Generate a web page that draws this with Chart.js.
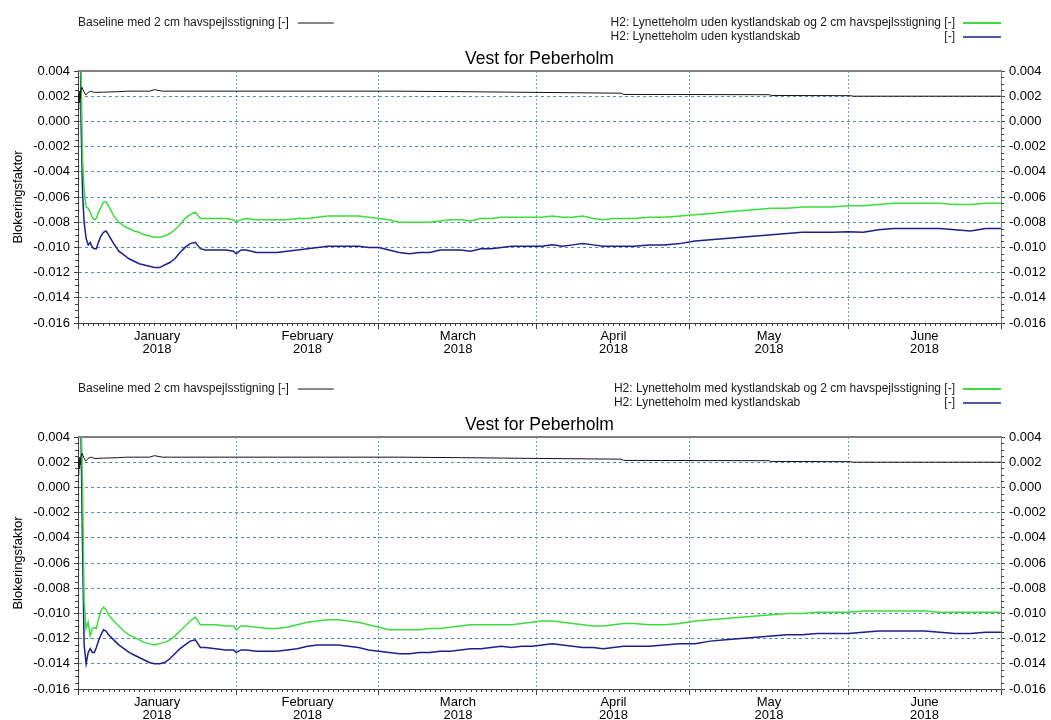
<!DOCTYPE html>
<html>
<head>
<meta charset="utf-8">
<script src="https://cdn.jsdelivr.net/npm/chart.js@4.4.1/dist/chart.umd.min.js"></script>
<style>
  html, body { margin: 0; padding: 0; background: #fff; overflow: hidden; width: 1051px; height: 720px; }
  .panel { position: absolute; left: 0; width: 1051px; height: 366px; }
  #p1 { top: 0; }
  #p2 { top: 366px; }
</style>
</head>
<body>
<div class="panel" id="p1"><canvas id="c1" width="1051" height="366"></canvas></div>
<div class="panel" id="p2"><canvas id="c2" width="1051" height="366"></canvas></div>
<script>
// Time is counted in days from 1 January 2018 00:00.
const monthStarts = [0, 31, 59, 90, 120, 151, 181];
const monthNames = ['January', 'February', 'March', 'April', 'May', 'June'];
const yearLabel = '2018';
const yTickValues = [0.004, 0.002, 0, -0.002, -0.004, -0.006, -0.008, -0.010, -0.012, -0.014, -0.016];

const titleText = 'Vest for Peberholm';
const yTitle = 'Blokeringsfaktor';
const unit = '[-]';
const baseLabel = 'Baseline med 2 cm havspejlsstigning';
const udenGreenLabel = 'H2: Lynetteholm uden kystlandskab og 2 cm havspejlsstigning';
const udenBlueLabel = 'H2: Lynetteholm uden kystlandskab';
const medGreenLabel = 'H2: Lynetteholm med kystlandskab og 2 cm havspejlsstigning';
const medBlueLabel = 'H2: Lynetteholm med kystlandskab';

// Baseline (same in both panels)
const baseDays = [0.05, 0.15, 0.25, 0.35, 0.45, 0.6, 0.8, 1.1, 1.5, 2.0,
  2.6, 3.2, 5, 8, 9.5, 12, 14, 15, 16.5, 18,
  40, 63, 75, 90, 106.5, 107, 135.5, 136, 151.5, 152, 181];
const baseVals = [0.0010, 0.0022, 0.0015, 0.0024, 0.0018, 0.0025, 0.0027, 0.0024, 0.0021, 0.0023,
  0.0024, 0.0023, 0.00232, 0.00236, 0.0024, 0.0024, 0.0024, 0.00252, 0.0024, 0.0024,
  0.0024, 0.0024, 0.00236, 0.0023, 0.00224, 0.00214, 0.00212, 0.00206, 0.00204, 0.0020, 0.0020];

// Sample days shared by the scenario series
const days = [
  0.4, 0.6, 0.9, 1.2, 1.6, 2.0, 2.4, 2.8, 3.2, 3.6, 4.0, 4.5, 5.0, 5.5, 6.0,
  7, 8, 9, 10, 11, 12, 13, 14, 15, 16, 17, 18, 19, 20, 21, 22, 23, 24, 25,
  27, 29, 30.5, 31, 32, 33,
  35, 37, 39, 41, 43, 45, 47, 49, 51, 53, 55, 57, 59, 61, 63, 65, 67, 69, 71, 73,
  75, 77, 79, 81, 83, 85, 87, 89, 91, 93, 95, 97, 99, 101, 103, 105, 107,
  109,
  112, 115, 118, 121, 124, 127, 130, 133, 136, 139, 142, 145, 148, 151, 154, 157,
  160, 163, 166, 169, 172, 175, 178, 181];

// Lynetteholm uden kystlandskab + 2 cm
const udenGreen = [
  0.010, 0.004, -0.0030, -0.0055, -0.0068, -0.0069, -0.0072, -0.0076, -0.0078, -0.0077, -0.0072, -0.0068, -0.0064, -0.0064, -0.0067,
  -0.0075, -0.0080, -0.0083, -0.0085, -0.0087, -0.0088, -0.0090, -0.0091, -0.0092, -0.0092, -0.0091, -0.0089, -0.0086, -0.0082, -0.0077, -0.0074, -0.0072, -0.0077, -0.0077,
  -0.0077, -0.0077, -0.0078, -0.0080, -0.0078, -0.0077,
  -0.0078, -0.0078, -0.0078, -0.0078, -0.0077, -0.0077, -0.0076, -0.0075, -0.0075, -0.0075, -0.0075, -0.0076, -0.0077, -0.0078, -0.0080, -0.0080, -0.0080, -0.0080, -0.0079, -0.0078,
  -0.0078, -0.0079, -0.0077, -0.0077, -0.0076, -0.0076, -0.0076, -0.0076, -0.0076, -0.0075, -0.0076, -0.0076, -0.0075, -0.0077, -0.0078, -0.0077, -0.0077,
  -0.0077,
  -0.0076, -0.0076, -0.0075, -0.0074, -0.0073, -0.0072, -0.0071, -0.0070, -0.0069, -0.0069, -0.0068, -0.0068, -0.0068, -0.0067, -0.0067, -0.0066,
  -0.0065, -0.0065, -0.0065, -0.0065, -0.0066, -0.0066, -0.0065, -0.0065];

// Lynetteholm uden kystlandskab
const udenBlue = [
  0.010, 0.000, -0.0057, -0.0080, -0.0093, -0.0098, -0.0096, -0.0100, -0.0101, -0.0101, -0.0096, -0.0091, -0.0088, -0.0087, -0.0090,
  -0.0097, -0.0103, -0.0106, -0.0109, -0.0111, -0.0113, -0.0114, -0.0115, -0.0116, -0.0116, -0.0114, -0.0112, -0.0109, -0.0104, -0.0100, -0.0097, -0.0096, -0.0101, -0.0102,
  -0.0102, -0.0102, -0.0103, -0.0105, -0.0102, -0.0102,
  -0.0104, -0.0104, -0.0104, -0.0103, -0.0102, -0.0101, -0.0100, -0.0099, -0.0099, -0.0099, -0.0099, -0.0100, -0.0100, -0.0102, -0.0104, -0.0105, -0.0104, -0.0104, -0.0102, -0.0102,
  -0.0102, -0.0103, -0.0101, -0.0101, -0.0100, -0.0099, -0.0099, -0.0099, -0.0099, -0.0098, -0.0099, -0.0098, -0.0097, -0.0098, -0.0099, -0.0099, -0.0099,
  -0.0099,
  -0.0098, -0.0098, -0.0097, -0.0095, -0.0094, -0.0093, -0.0092, -0.0091, -0.0090, -0.0089, -0.0088, -0.0088, -0.0088, -0.00875, -0.0088, -0.0086,
  -0.0085, -0.0085, -0.0085, -0.0085, -0.0086, -0.0087, -0.0085, -0.0085];

// Lynetteholm med kystlandskab + 2 cm
const medGreen = [
  0.010, 0.006, 0.000, -0.0090, -0.0112, -0.0107, -0.0118, -0.0112, -0.0111, -0.0112, -0.0105, -0.0098, -0.0095, -0.0097, -0.0101,
  -0.0106, -0.0110, -0.0114, -0.0117, -0.0119, -0.0121, -0.0123, -0.0124, -0.0125, -0.0124, -0.0123, -0.0121, -0.0118, -0.0114, -0.0110, -0.0106, -0.0103, -0.0109, -0.0109,
  -0.0109, -0.0110, -0.0110, -0.0113, -0.0110, -0.0110,
  -0.0111, -0.0112, -0.0112, -0.0111, -0.0109, -0.0107, -0.0106, -0.0105, -0.0105, -0.0106, -0.0107, -0.0109, -0.0111, -0.0113, -0.0113, -0.0113, -0.0113, -0.0112, -0.0112, -0.0111,
  -0.0110, -0.0109, -0.0109, -0.0109, -0.0109, -0.0109, -0.0108, -0.0107, -0.0106, -0.0106, -0.0107, -0.0108, -0.0109, -0.0110, -0.0110, -0.0109, -0.0108,
  -0.0108,
  -0.0109, -0.0109, -0.0108, -0.0106, -0.0105, -0.0104, -0.0103, -0.0102, -0.0101, -0.0100, -0.0100, -0.0099, -0.0099, -0.0099, -0.0098, -0.0098,
  -0.0098, -0.0098, -0.0098, -0.0099, -0.0099, -0.0099, -0.0099, -0.0099];

// Lynetteholm med kystlandskab
const medBlue = [
  0.010, 0.004, -0.0050, -0.0125, -0.0140, -0.0131, -0.0128, -0.0131, -0.0131, -0.0127, -0.0122, -0.0117, -0.0113, -0.0114, -0.0117,
  -0.0121, -0.0125, -0.0128, -0.0131, -0.0133, -0.0135, -0.0137, -0.0139, -0.0140, -0.0140, -0.0139, -0.0136, -0.0132, -0.0128, -0.0125, -0.0122, -0.0121, -0.0127, -0.0127,
  -0.0128, -0.0129, -0.0129, -0.0131, -0.0129, -0.0129,
  -0.0130, -0.0130, -0.0130, -0.0129, -0.0128, -0.0126, -0.0125, -0.0125, -0.0125, -0.0126, -0.0127, -0.0129, -0.0130, -0.0131, -0.0132, -0.0132, -0.0131, -0.0131, -0.0130, -0.0130,
  -0.0129, -0.0128, -0.0128, -0.0127, -0.0126, -0.0127, -0.0126, -0.0126, -0.0125, -0.0124, -0.0125, -0.0126, -0.0127, -0.0127, -0.0128, -0.0127, -0.0126,
  -0.0126,
  -0.0126, -0.0125, -0.0124, -0.0124, -0.0122, -0.0121, -0.0120, -0.0119, -0.0118, -0.0117, -0.0117, -0.0116, -0.0116, -0.0116, -0.0115, -0.0114,
  -0.0114, -0.0114, -0.0114, -0.0115, -0.0116, -0.0116, -0.0115, -0.0115];

const colBase = '#111111';
const colGreen = '#3cdc3c';
const colBlue = '#1e1e8c';
const axisColor = '#404040';

Chart.defaults.font.family = "'Liberation Sans', Arial, sans-serif";
Chart.defaults.color = '#000';

const monthMids = monthNames.map((_, i) => (monthStarts[i] + monthStarts[i + 1]) / 2);
const xTickValues = monthStarts.concat(monthMids).sort((a, b) => a - b);
const isInnerBoundary = v => monthStarts.indexOf(v) > 0 && v < 181;
const fmtY = v => (Math.abs(v) < 1e-9 ? 0 : v).toFixed(3);
const points = (xs, ys) => xs.map((x, i) => ({ x: x, y: ys[i] }));

// Daily minor ticks, quarter-step minor ticks on both value axes and the top frame line
const frameAndMinorTicks = {
  id: 'frameAndMinorTicks',
  afterDraw(chart) {
    const { ctx, chartArea: a, scales } = chart;
    const x = scales.x, y = scales.y;
    ctx.save();
    ctx.strokeStyle = axisColor;
    ctx.lineWidth = 1;
    ctx.beginPath();
    for (let d = 1; d < 181; d++) {
      if (monthStarts.includes(d)) continue;
      const px = Math.round(x.getPixelForValue(d)) + 0.5;
      ctx.moveTo(px, a.bottom);
      ctx.lineTo(px, a.bottom + 3);
    }
    for (let k = 1; k < 40; k++) {
      if (k % 4 === 0) continue;
      const py = Math.round(y.getPixelForValue(-0.016 + k * 0.0005)) + 0.5;
      ctx.moveTo(a.left - 3, py); ctx.lineTo(a.left, py);
      ctx.moveTo(a.right, py); ctx.lineTo(a.right + 3, py);
    }
    ctx.stroke();
    ctx.strokeStyle = '#808080';
    ctx.lineWidth = 2;
    ctx.beginPath();
    ctx.moveTo(a.left, a.top);
    ctx.lineTo(a.right + 1, a.top);
    ctx.stroke();
    ctx.restore();
  }
};

// Legend: baseline on the left, two scenario rows on the right
const legendRows = {
  id: 'legendRows',
  afterDraw(chart, args, opts) {
    const { ctx, chartArea: a } = chart;
    const ds = chart.data.datasets;
    ctx.save();
    ctx.font = opts.size + 'px ' + Chart.defaults.font.family;
    ctx.fillStyle = '#1a1a1a';
    ctx.textBaseline = 'middle';
    const sample = (x1, x2, yy, color, w) => {
      ctx.strokeStyle = color; ctx.lineWidth = w;
      ctx.beginPath(); ctx.moveTo(x1, Math.round(yy)); ctx.lineTo(x2, Math.round(yy)); ctx.stroke();
    };
    ctx.textAlign = 'left';
    const t0 = ds[0].label + ' ' + unit;
    ctx.fillText(t0, a.left, opts.row1);
    const w0 = ctx.measureText(t0).width;
    sample(a.left + w0 + 9, a.left + w0 + 45, opts.row1, ds[0].borderColor, 1);

    const rx = a.right - 46;
    const t1 = ds[1].label + ' ' + unit;
    const w1 = ctx.measureText(t1).width;
    ctx.fillText(t1, rx - w1, opts.row1);
    ctx.fillText(ds[2].label, rx - w1, opts.row2);
    ctx.textAlign = 'right';
    ctx.fillText(unit, rx, opts.row2);
    sample(a.right - 38, a.right, opts.row1, ds[1].borderColor, 2);
    sample(a.right - 38, a.right, opts.row2, ds[2].borderColor, 1.5);
    ctx.restore();
  }
};

function makePanel(canvasId, greenLabel, greenVals, blueLabel, blueVals) {
  return new Chart(document.getElementById(canvasId), {
    type: 'line',
    data: {
      datasets: [
        { label: baseLabel, data: points(baseDays, baseVals), borderColor: colBase, borderWidth: 1 },
        { label: greenLabel, data: points(days, greenVals), borderColor: colGreen, borderWidth: 1.5 },
        { label: blueLabel, data: points(days, blueVals), borderColor: colBlue, borderWidth: 1.5 }
      ]
    },
    options: {
      responsive: false,
      animation: false,
      devicePixelRatio: 1,
      layout: { padding: { top: 49, left: 0, right: 0, bottom: 0 } },
      elements: { point: { radius: 0 }, line: { tension: 0 } },
      plugins: {
        legend: { display: false },
        tooltip: { enabled: false },
        title: {
          display: true, text: titleText, fullSize: false, color: '#000',
          font: { size: 17.5, weight: 'normal' }, padding: { top: 0, bottom: 1 }
        },
        legendRows: { size: 12, row1: 23, row2: 37 }
      },
      scales: {
        x: {
          type: 'linear', position: 'bottom', min: 0, max: 181,
          afterBuildTicks: s => { s.ticks = xTickValues.map(v => ({ value: v })); },
          afterFit: s => { s.height = 43; },
          ticks: {
            autoSkip: false, maxRotation: 0, minRotation: 0, padding: 1,
            font: { size: 13, lineHeight: 1.0 }, color: '#000',
            callback: v => {
              const i = monthMids.indexOf(v);
              return i >= 0 ? [monthNames[i], yearLabel] : '';
            }
          },
          grid: {
            color: c => (c.tick && isInnerBoundary(c.tick.value)) ? '#5aaedc' : 'rgba(0,0,0,0)',
            tickColor: c => (c.tick && monthStarts.includes(c.tick.value)) ? axisColor : 'rgba(0,0,0,0)',
            tickLength: 6, lineWidth: 1
          },
          border: { color: axisColor, width: 1, dash: [2, 2] }
        },
        y: {
          position: 'left', min: -0.016, max: 0.004,
          afterBuildTicks: s => { s.ticks = yTickValues.map(v => ({ value: v })); },
          afterFit: s => { s.width = 78; },
          ticks: { callback: v => fmtY(v), padding: 4, color: '#000', font: { size: 13 } },
          grid: {
            color: c => (c.tick && c.tick.value < 0.0039 && c.tick.value > -0.0159) ? '#4f8db5' : 'rgba(0,0,0,0)',
            tickColor: axisColor, tickLength: 4, lineWidth: 1
          },
          border: { color: axisColor, width: 1, dash: [3, 3] },
          title: {
            display: true, text: yTitle, color: '#000',
            font: { size: 13 }, padding: { top: 11, bottom: 0 }
          }
        },
        y2: {
          position: 'right', min: -0.016, max: 0.004,
          afterBuildTicks: s => { s.ticks = yTickValues.map(v => ({ value: v })); },
          afterFit: s => { s.width = 50; },
          ticks: { callback: v => fmtY(v), padding: 4, color: '#000', font: { size: 13 } },
          grid: { drawOnChartArea: false, tickColor: axisColor, tickLength: 4 },
          border: { color: '#808080', width: 1 }
        }
      }
    },
    plugins: [frameAndMinorTicks, legendRows]
  });
}

makePanel('c1', udenGreenLabel, udenGreen, udenBlueLabel, udenBlue);
makePanel('c2', medGreenLabel, medGreen, medBlueLabel, medBlue);
</script>
</body>
</html>
